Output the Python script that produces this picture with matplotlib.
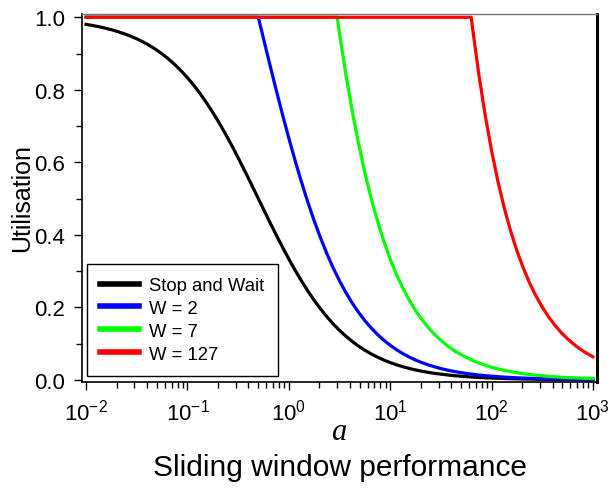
import matplotlib
matplotlib.use("Agg")
import matplotlib.pyplot as plt
from matplotlib.ticker import FixedLocator, LogLocator, NullFormatter, MultipleLocator

plt.rcParams['font.family'] = ['Liberation Sans', 'DejaVu Sans']
plt.rcParams['mathtext.fontset'] = 'custom'
plt.rcParams['mathtext.rm'] = 'Liberation Sans'
plt.rcParams['mathtext.it'] = 'Liberation Sans:italic'

# a values read along the x-axis (sixteen readings per decade)
sw_a = [0.01, 0.011548, 0.013335, 0.015399, 0.017783, 0.020535, 0.023714, 0.027384,
        0.031623, 0.036517, 0.04217, 0.048697, 0.056234, 0.064938, 0.074989, 0.086596,
        0.1, 0.11548, 0.13335, 0.15399, 0.17783, 0.20535, 0.23714, 0.27384,
        0.31623, 0.36517, 0.4217, 0.48697, 0.56234, 0.64938, 0.74989, 0.86596,
        1.0, 1.1548, 1.3335, 1.5399, 1.7783, 2.0535, 2.3714, 2.7384,
        3.1623, 3.6517, 4.217, 4.8697, 5.6234, 6.4938, 7.4989, 8.6596,
        10.0, 11.548, 13.335, 15.399, 17.783, 20.535, 23.714, 27.384,
        31.623, 36.517, 42.17, 48.697, 56.234, 64.938, 74.989, 86.596,
        100.0, 115.48, 133.35, 153.99, 177.83, 205.35, 237.14, 273.84,
        316.23, 365.17, 421.7, 486.97, 562.34, 649.38, 749.89, 865.96, 1000.0]
sw_u = [0.9804, 0.9774, 0.9740, 0.9701, 0.9657, 0.9605, 0.9547, 0.9481,
        0.9405, 0.9319, 0.9222, 0.9113, 0.8989, 0.8851, 0.8696, 0.8524,
        0.8333, 0.8124, 0.7895, 0.7645, 0.7376, 0.7089, 0.6783, 0.6461,
        0.6126, 0.5779, 0.5425, 0.5066, 0.4707, 0.4350, 0.4000, 0.3660,
        0.3333, 0.3022, 0.2727, 0.2451, 0.2195, 0.1958, 0.1741, 0.1544,
        0.1365, 0.1204, 0.1060, 0.0931, 0.0817, 0.0715, 0.0625, 0.0546,
        0.0476, 0.0415, 0.0361, 0.0314, 0.0273, 0.0238, 0.0206, 0.0179,
        0.0156, 0.0135, 0.0117, 0.0102, 0.0088, 0.0076, 0.0066, 0.0057,
        0.0050, 0.0043, 0.0037, 0.0032, 0.0028, 0.0024, 0.0021, 0.0018,
        0.0016, 0.0014, 0.0012, 0.0010, 0.0009, 0.0008, 0.0007, 0.0006, 0.0005]

w2_a = [0.01, 0.5, 0.56234, 0.64938, 0.74989, 0.86596,
        1.0, 1.1548, 1.3335, 1.5399, 1.7783, 2.0535, 2.3714, 2.7384,
        3.1623, 3.6517, 4.217, 4.8697, 5.6234, 6.4938, 7.4989, 8.6596,
        10.0, 11.548, 13.335, 15.399, 17.783, 20.535, 23.714, 27.384,
        31.623, 36.517, 42.17, 48.697, 56.234, 64.938, 74.989, 86.596,
        100.0, 133.35, 177.83, 237.14, 316.23, 421.7, 562.34, 749.89, 1000.0]
w2_u = [1.0, 1.0, 0.9414, 0.8700, 0.8000, 0.7321,
        0.6667, 0.6043, 0.5454, 0.4902, 0.4389, 0.3916, 0.3483, 0.3088,
        0.2731, 0.2409, 0.2120, 0.1862, 0.1633, 0.1430, 0.1250, 0.1092,
        0.0952, 0.0830, 0.0723, 0.0629, 0.0547, 0.0475, 0.0413, 0.0359,
        0.0311, 0.0270, 0.0234, 0.0203, 0.0176, 0.0153, 0.0132, 0.0115,
        0.0100, 0.0075, 0.0056, 0.0042, 0.0032, 0.0024, 0.0018, 0.0013, 0.0010]

w7_a = [0.01, 3.0, 3.1623, 3.6517, 4.217, 4.8697, 5.6234, 6.4938, 7.4989, 8.6596,
        10.0, 11.548, 13.335, 15.399, 17.783, 20.535, 23.714, 27.384,
        31.623, 36.517, 42.17, 48.697, 56.234, 64.938, 74.989, 86.596,
        100.0, 115.48, 133.35, 153.99, 177.83, 205.35, 237.14, 273.84,
        316.23, 365.17, 421.7, 486.97, 562.34, 649.38, 749.89, 865.96, 1000.0]
w7_u = [1.0, 1.0, 0.9557, 0.8430, 0.7420, 0.6518, 0.5716, 0.5004, 0.4376, 0.3821,
        0.3333, 0.2905, 0.2530, 0.2201, 0.1914, 0.1664, 0.1445, 0.1255,
        0.1090, 0.0946, 0.0820, 0.0711, 0.0617, 0.0535, 0.0464, 0.0402,
        0.0348, 0.0302, 0.0261, 0.0227, 0.0196, 0.0170, 0.0147, 0.0128,
        0.0111, 0.0096, 0.0083, 0.0072, 0.0062, 0.0054, 0.0047, 0.0040, 0.0035]

w127_a = [0.01, 63.0, 64.938, 74.989, 86.596,
          100.0, 115.48, 133.35, 153.99, 177.83, 205.35, 237.14, 273.84,
          316.23, 365.17, 421.7, 486.97, 562.34, 649.38, 749.89, 865.96, 1000.0]
w127_u = [1.0, 1.0, 0.9704, 0.8412, 0.7291,
          0.6318, 0.5475, 0.4744, 0.4110, 0.3561, 0.3085, 0.2672, 0.2315,
          0.2005, 0.1737, 0.1504, 0.1303, 0.1128, 0.0977, 0.0846, 0.0733, 0.0635]

labels = ['Stop and Wait', 'W = 2', 'W = 7', 'W = 127']
colors = ['#000000', '#0000ff', '#00ff00', '#ff0000']
xtick_vals = [1e-2, 1e-1, 1e0, 1e1, 1e2, 1e3]
xtick_labels = ['$10^{-2}$', '$10^{-1}$', '$10^{0}$', '$10^{1}$', '$10^{2}$', '$10^{3}$']
ytick_vals = [0.0, 0.2, 0.4, 0.6, 0.8, 1.0]

fig = plt.figure(figsize=(6.11, 4.89), dpi=100)
ax = fig.add_axes([82/611, 1-383/489, (597-82)/611, (383-15)/489])

series = [(sw_a, sw_u), (w2_a, w2_u), (w7_a, w7_u), (w127_a, w127_u)]
for (x, y), lab, c in zip(series, labels, colors):
    ax.plot(x, y, color=c, lw=2.3, label=lab, solid_joinstyle='round')

ax.set_xscale('log')
ax.set_xlim(10**-2.04, 10**3.04)
ax.set_ylim(-0.006, 1.009)
ax.xaxis.set_major_locator(FixedLocator(xtick_vals))
ax.set_xticklabels(xtick_labels)
ax.xaxis.set_minor_locator(LogLocator(base=10, subs=range(2, 10), numticks=20))
ax.xaxis.set_minor_formatter(NullFormatter())
ax.set_yticks(ytick_vals)
ax.set_yticklabels([f'{v:.1f}' for v in ytick_vals])
ax.yaxis.set_minor_locator(MultipleLocator(0.1))

ax.tick_params(which='major', direction='out', length=6, width=1, labelsize=16,
               top=False, right=False, pad=6)
ax.tick_params(which='minor', direction='out', length=4, width=1, top=False, right=False)

for s in ['left', 'bottom']:
    ax.spines[s].set_linewidth(1.2)
ax.spines['right'].set_linewidth(2.2)
ax.spines['top'].set_linewidth(1.0)
ax.spines['top'].set_color('#777777')

leg = ax.legend(loc='lower left', bbox_to_anchor=(5/515, 6/368), borderaxespad=0,
                fancybox=False, edgecolor='black', fontsize=13.3, handlelength=2.1,
                handletextpad=0.55, labelspacing=0.32, borderpad=0.72, framealpha=1)
leg.get_frame().set_linewidth(1.0)
for line in leg.get_lines():
    line.set_linewidth(4)

fig.text(339/611, 1-433/489, 'a', family='Liberation Serif', style='italic',
         fontsize=22, ha='center', va='center')
fig.text(340/611, 1-468/489, 'Sliding window performance', fontsize=21.5,
         ha='center', va='center')
fig.text(22/611, 1-198/489, 'Utilisation', fontsize=18, rotation=90,
         ha='center', va='center')

fig.savefig('out.png', dpi=100)
